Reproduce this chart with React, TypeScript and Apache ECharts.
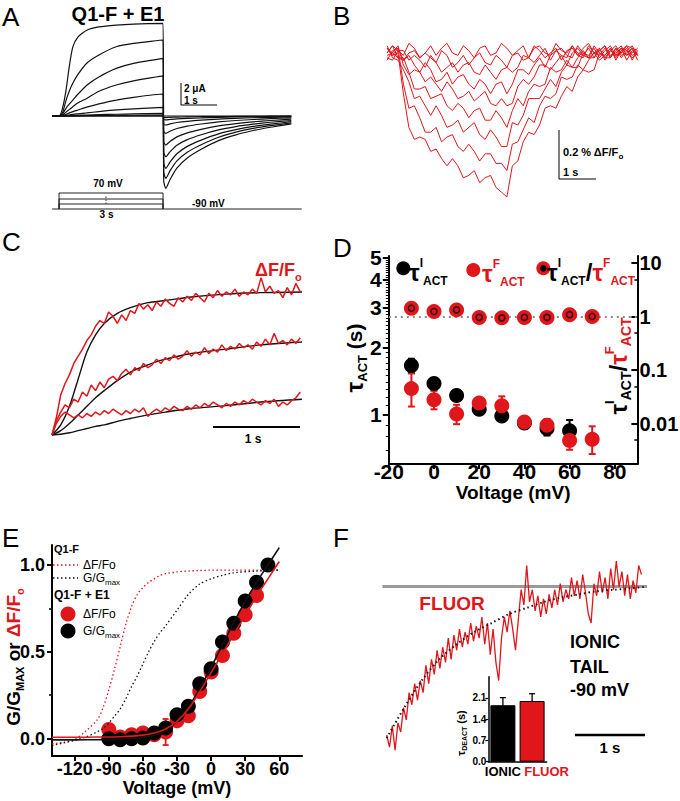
import React, { useEffect, useRef } from 'react';
import * as echarts from 'echarts';

const FF = '"Liberation Sans", Arial, Helvetica, sans-serif';
const RED = '#e0161b';

// ---------------- Panel A : ionic currents ----------------
const aStepTime = [-0.2, 0, 0.1, 0.2, 0.3, 0.4, 0.55, 0.8, 1.15, 1.65, 2.15, 3.0];
const aTailTime = [3.02, 3.08, 3.2, 3.4, 3.7, 4.1, 4.6, 5.1, 5.6, 6.1, 6.7];
const aStep = [
  [0, 0, 0.7, 2.3, 4.6, 6.3, 7.2, 7.8, 8.1, 8.27, 8.36, 8.42],
  [0, 0, 0.3, 1.4, 2.3, 3.0, 3.8, 4.8, 5.55, 6.3, 6.6, 6.91],
  [0, 0, 0.2, 0.7, 1.1, 1.45, 2.0, 2.8, 3.55, 4.33, 4.79, 5.24],
  [0, 0, 0.1, 0.35, 0.6, 0.85, 1.2, 1.6, 2.25, 2.82, 3.2, 3.64],
  [0, 0, 0.05, 0.15, 0.28, 0.4, 0.55, 0.8, 1.1, 1.45, 1.7, 2.0],
  [0, 0, 0.02, 0.06, 0.1, 0.15, 0.2, 0.28, 0.4, 0.55, 0.64, 0.79],
  [0, 0, 0, 0.02, 0.03, 0.04, 0.06, 0.09, 0.12, 0.16, 0.19, 0.24],
  [0, 0, 0, 0, 0.01, 0.01, 0.02, 0.03, 0.05, 0.06, 0.07, 0.09],
  [0, 0, 0, 0, 0, 0, 0, 0, 0, 0, 0, 0],
  [0, 0, 0, 0, 0, 0, 0, 0, 0, 0, 0, 0],
];
const aTail = [
  [-5.92, -6.58, -5.79, -4.74, -3.82, -3.03, -2.24, -1.71, -1.32, -1.02, -0.72],
  [-5.1, -5.67, -4.99, -4.08, -3.29, -2.61, -1.93, -1.47, -1.13, -0.88, -0.62],
  [-4.28, -4.76, -4.19, -3.43, -2.76, -2.19, -1.62, -1.24, -0.95, -0.74, -0.52],
  [-3.33, -3.7, -3.26, -2.66, -2.15, -1.7, -1.26, -0.96, -0.74, -0.57, -0.41],
  [-2.38, -2.64, -2.32, -1.9, -1.53, -1.21, -0.9, -0.69, -0.53, -0.41, -0.29],
  [-1.42, -1.58, -1.39, -1.14, -0.92, -0.73, -0.54, -0.41, -0.32, -0.24, -0.17],
  [-0.74, -0.82, -0.72, -0.59, -0.48, -0.38, -0.28, -0.21, -0.16, -0.13, -0.09],
  [-0.32, -0.36, -0.32, -0.26, -0.21, -0.17, -0.12, -0.09, -0.07, -0.06, -0.04],
  [-0.12, -0.14, -0.12, -0.1, -0.08, -0.06, -0.05, -0.04, -0.03, -0.02, -0.02],
  [0, 0, 0, 0, 0, 0, 0, 0, 0, 0, 0],
];
const aProtocolLevels = [70, 10, -40];
const aHold = -90;
const aStepOn = 0;
const aStepOff = 3;
const aProtocolSpan = [-0.2, 7.0];

// ---------------- Panel B : fluorescence traces (samples every 0.15 s from -0.3 s) ----------------
const bTraces = [
  [0.02, -0.01, 0.0, -0.17, -0.31, -0.36, -0.35, -0.36, -0.41, -0.4,
   -0.44, -0.47, -0.44, -0.47, -0.52, -0.51, -0.49, -0.54, -0.52, -0.51,
   -0.56, -0.58, -0.6, -0.47, -0.45, -0.37, -0.33, -0.34, -0.3, -0.23,
   -0.22, -0.23, -0.18, -0.14, -0.16, -0.1, -0.07, -0.08, -0.07, 0.0,
   -0.02, -0.02, 0.02, -0.02, 0.01, 0.03, -0.01],
  [0.02, -0.01, 0.02, -0.13, -0.23, -0.22, -0.27, -0.33, -0.33, -0.31,
   -0.37, -0.35, -0.34, -0.39, -0.41, -0.38, -0.41, -0.45, -0.42, -0.42,
   -0.46, -0.46, -0.49, -0.38, -0.37, -0.32, -0.27, -0.29, -0.22, -0.18,
   -0.19, -0.17, -0.1, -0.11, -0.1, -0.05, -0.07, -0.03, 0.0, -0.03,
   -0.01, 0.02, -0.03, 0.01, -0.01, 0.02, 0.01],
  [0.03, -0.02, -0.03, -0.07, -0.12, -0.19, -0.18, -0.22, -0.26, -0.22,
   -0.26, -0.31, -0.3, -0.28, -0.33, -0.31, -0.29, -0.34, -0.36, -0.32,
   -0.35, -0.39, -0.39, -0.29, -0.3, -0.26, -0.19, -0.19, -0.19, -0.15,
   -0.11, -0.14, -0.08, -0.05, -0.06, -0.06, 0.0, -0.02, -0.02, 0.02,
   -0.02, 0.01, 0.03, -0.01, 0.0, 0.02, -0.03],
  [0.02, 0.0, -0.02, -0.02, -0.08, -0.15, -0.15, -0.14, -0.19, -0.18,
   -0.17, -0.22, -0.24, -0.21, -0.23, -0.27, -0.24, -0.23, -0.28, -0.28,
   -0.24, -0.27, -0.31, -0.24, -0.19, -0.22, -0.16, -0.13, -0.14, -0.13,
   -0.06, -0.08, -0.07, -0.03, -0.06, -0.02, 0.01, -0.02, 0.0, 0.02,
   -0.03, 0.01, -0.01, 0.02, 0.01, -0.02, 0.0],
  [-0.01, 0.0, 0.03, -0.05, -0.09, -0.07, -0.08, -0.12, -0.1, -0.13,
   -0.16, -0.12, -0.15, -0.19, -0.18, -0.16, -0.2, -0.18, -0.16, -0.21,
   -0.22, -0.19, -0.22, -0.21, -0.14, -0.11, -0.13, -0.1, -0.05, -0.05,
   -0.07, -0.04, -0.01, -0.05, 0.0, 0.02, -0.01, -0.02, 0.03, 0.0,
   -0.01, 0.02, -0.02, 0.01, 0.03, -0.01, 0.0],
  [-0.03, 0.01, 0.02, -0.03, -0.01, -0.05, -0.08, -0.04, -0.07, -0.12,
   -0.11, -0.08, -0.13, -0.1, -0.09, -0.13, -0.15, -0.11, -0.13, -0.17,
   -0.13, -0.12, -0.17, -0.13, -0.07, -0.07, -0.09, -0.05, -0.02, -0.06,
   -0.01, 0.01, -0.01, -0.02, 0.03, 0.0, -0.01, 0.02, -0.02, 0.01,
   0.03, -0.01, 0.0, 0.02, -0.03, 0.01, -0.01],
  [-0.02, -0.03, 0.01, 0.01, -0.03, -0.01, -0.03, -0.06, -0.01, -0.04,
   -0.08, -0.06, -0.04, -0.08, -0.05, -0.04, -0.08, -0.09, -0.05, -0.08,
   -0.11, -0.07, -0.06, -0.08, -0.06, -0.01, -0.02, -0.04, -0.01, 0.02,
   -0.03, 0.01, 0.02, -0.01, -0.02, 0.03, 0.0, -0.01, 0.02, -0.02,
   0.01, 0.03, -0.01, 0.0, 0.02, -0.03, 0.01],
  [0.0, 0.03, -0.02, -0.03, 0.0, 0.01, -0.02, 0.0, -0.02, -0.04,
   0.01, -0.01, -0.06, -0.04, -0.01, -0.05, -0.02, 0.0, -0.04, -0.05,
   -0.01, -0.03, -0.06, -0.01, 0.0, -0.03, -0.02, 0.03, 0.01, -0.02,
   0.0, 0.02, -0.03, 0.01, 0.02, -0.01, -0.02, 0.03, 0.0, -0.01,
   0.02, -0.02, 0.01, 0.03, -0.01, 0.0, 0.02],
  [0.0, 0.03, 0.01, -0.01, 0.04, 0.02, -0.02, 0.0, 0.03, -0.01,
   0.02, 0.04, 0.0, -0.01, 0.03, 0.01, -0.02, 0.02, 0.03, -0.01,
   0.0, 0.04, 0.02, -0.01, 0.01, 0.03, -0.02, 0.02, 0.03, 0.0,
   -0.01, 0.04, 0.01, 0.0, 0.03, -0.01, 0.02, 0.04, 0.0, 0.01,
   0.03, -0.02, 0.02, 0.0, 0.03, 0.02, -0.01],
];

// ---------------- Panel C : ionic fits vs fluorescence (samples every 0.05 s) ----------------
const cFitTime = [0, 0.1, 0.2, 0.3, 0.4, 0.5, 0.6, 0.75, 0.9, 1.1, 1.3, 1.6, 2.0, 2.4, 2.87];
const cFits = [
  [0, 0.07, 0.2, 0.39, 0.58, 0.7, 0.78, 0.85, 0.89, 0.925, 0.94, 0.965, 0.985, 0.995, 1.0],
  [0, 0.03, 0.08, 0.14, 0.2, 0.26, 0.31, 0.38, 0.44, 0.49, 0.53, 0.57, 0.6, 0.63, 0.65],
  [0, 0.005, 0.015, 0.03, 0.045, 0.06, 0.07, 0.095, 0.115, 0.14, 0.16, 0.185, 0.205, 0.23, 0.25],
];
const cTraces = [
  [0.0, 0.12, 0.28, 0.36, 0.42, 0.5, 0.55, 0.6, 0.66, 0.7,
   0.76, 0.8, 0.78, 0.86, 0.83, 0.78, 0.84, 0.8, 0.87, 0.85,
   0.92, 0.88, 0.91, 0.87, 0.93, 0.9, 0.95, 0.92, 0.9, 0.96,
   0.93, 0.97, 0.94, 0.99, 0.96, 0.93, 0.99, 0.96, 1.01, 0.97,
   1.0, 0.98, 1.02, 0.97, 1.0, 0.98, 1.02, 0.99, 1.1, 1.0,
   1.04, 0.99, 1.01, 0.96, 1.03, 0.98, 1.06, 1.0],
  [0.0, 0.1, 0.16, 0.21, 0.19, 0.25, 0.23, 0.3, 0.27, 0.35,
   0.31, 0.37, 0.33, 0.39, 0.41, 0.38, 0.43, 0.46, 0.42, 0.47,
   0.45, 0.5, 0.47, 0.49, 0.53, 0.5, 0.54, 0.52, 0.56, 0.53,
   0.55, 0.59, 0.55, 0.58, 0.56, 0.61, 0.57, 0.6, 0.58, 0.63,
   0.59, 0.62, 0.6, 0.64, 0.61, 0.63, 0.6, 0.65, 0.62, 0.67,
   0.63, 0.71, 0.64, 0.66, 0.63, 0.67, 0.64, 0.68],
  [0.0, 0.08, 0.13, 0.16, 0.14, 0.12, 0.14, 0.12, 0.15, 0.13,
   0.16, 0.14, 0.17, 0.15, 0.18, 0.16, 0.14, 0.17, 0.15, 0.18,
   0.16, 0.19, 0.13, 0.16, 0.18, 0.16, 0.19, 0.17, 0.2, 0.18,
   0.17, 0.2, 0.18, 0.21, 0.19, 0.22, 0.2, 0.23, 0.21, 0.19,
   0.22, 0.2, 0.23, 0.21, 0.24, 0.22, 0.25, 0.23, 0.21, 0.24,
   0.22, 0.25, 0.2, 0.23, 0.21, 0.24, 0.26, 0.3],
];

// ---------------- Panel D : activation time constants ----------------
const dVoltI = [-10, 0, 10, 20, 30, 40, 50, 60];
const dTauI = [1.66, 1.38, 1.22, 1.06, 0.99, 0.92, 0.87, 0.85];
const dTauIErr = [0.12, 0.08, 0.06, 0.04, 0.05, 0.05, 0.06, 0.1];
const dVoltF = [-10, 0, 10, 20, 30, 40, 50, 60, 70];
const dTauF = [1.31, 1.17, 1.01, 1.13, 1.1, 0.93, 0.9, 0.77, 0.78];
const dTauFErr = [0.22, 0.11, 0.1, 0.05, 0.11, 0.05, 0.06, 0.07, 0.11];
const dRatio = [1.44, 1.25, 1.34, 0.97, 0.95, 0.97, 0.97, 1.09, 1.01];
const dRatioErr = [0.1, 0.06, 0.06, 0.08, 0.08, 0.08, 0.08, 0.08, 0.08];
const dXTicks = [-20, 0, 20, 40, 60, 80];
const dYMajor = [1, 2, 3, 4, 5];
const dYMinor = [0.7, 0.8, 0.9, 1.1, 1.2, 1.3, 1.4, 1.5, 1.6, 1.7, 1.8, 1.9,
  2.1, 2.2, 2.3, 2.4, 2.5, 2.6, 2.7, 2.8, 2.9, 3.1, 3.2, 3.3, 3.4, 3.5, 3.6, 3.7, 3.8, 3.9,
  4.1, 4.2, 4.3, 4.4, 4.5, 4.6, 4.7, 4.8, 4.9];
const dRatioTicks = [0.01, 0.1, 1, 10];
const dRatioMinor = [0.005, 0.05, 0.5, 5];

// ---------------- Panel E : G-V and F-V ----------------
const eVoltG = [-90, -80, -70, -60, -50, -40, -30, -20, -10, 0, 10, 20, 30, 40, 50];
const eG = [0.0, -0.006, 0.0, 0.004, 0.033, 0.061, 0.138, 0.186, 0.316, 0.402, 0.556, 0.665, 0.793, 0.9, 1.0];
const eGErr = [0.01, 0.01, 0.01, 0.01, 0.01, 0.02, 0.02, 0.02, 0.02, 0.02, 0.02, 0.02, 0.02, 0.02, 0.02];
const eVoltF = [-90, -80, -70, -60, -50, -40, -30, -20, -10, 0, 10, 20, 30, 40];
const eF = [0.052, 0.01, 0.023, 0.033, 0.023, 0.038, 0.103, 0.132, 0.272, 0.383, 0.479, 0.607, 0.713, 0.824];
const eFErr = [0.03, 0.02, 0.02, 0.02, 0.02, 0.075, 0.02, 0.02, 0.02, 0.03, 0.02, 0.02, 0.02, 0.02];
const eFitVolt = [-140, -120, -100, -80, -60, -50, -40, -30, -20, -10, 0, 10, 20, 30, 40, 50, 60];
const eFitG = [-0.007, -0.007, -0.006, -0.004, 0.005, 0.018, 0.045, 0.1, 0.18, 0.29, 0.41, 0.54, 0.67, 0.79, 0.9, 1.0, 1.1];
const eFitF = [0.008, 0.008, 0.009, 0.011, 0.02, 0.032, 0.055, 0.1, 0.17, 0.27, 0.38, 0.49, 0.6, 0.71, 0.82, 0.92, 1.02];
const eQ1Volt = [-140, -130, -120, -110, -100, -95, -90, -85, -80, -75, -70, -65, -60, -55, -50, -45, -40, -30, -20, -10, 0, 10, 20, 40, 60];
const eQ1F = [-0.03, -0.02, -0.005, 0.045, 0.11, 0.18, 0.28, 0.4, 0.53, 0.66, 0.76, 0.83, 0.87, 0.9, 0.92, 0.94, 0.95, 0.96, 0.965, 0.968, 0.97, 0.97, 0.97, 0.97, 0.97];
const eQ1G = [-0.04, -0.025, -0.01, 0.01, 0.04, 0.06, 0.09, 0.13, 0.17, 0.23, 0.3, 0.36, 0.43, 0.5, 0.56, 0.61, 0.65, 0.74, 0.83, 0.89, 0.92, 0.94, 0.955, 0.965, 0.97];
const eXTicks = [-120, -90, -60, -30, 0, 30, 60];
const eYMajor = [0, 0.5, 1.0];
const eYMinor = [0.25, 0.75];

// ---------------- Panel F : deactivation tail (samples every 0.04 s) ----------------
const fTrace = [
  0.02, -0.06, 0.08, -0.08, 0.1, 0.04, 0.2, 0.12, 0.3, 0.22,
  0.36, 0.25, 0.38, 0.3, 0.48, 0.36, 0.52, 0.42, 0.58, 0.46,
  0.6, 0.5, 0.66, 0.52, 0.68, 0.58, 0.72, 0.6, 0.7, 0.62,
  0.76, 0.64, 0.74, 0.66, 0.8, 0.62, 0.76, 0.55, 0.72, 0.5,
  0.38, 0.66, 0.8, 0.7, 0.84, 0.72, 0.58, 0.78, 0.98, 0.88,
  1.14, 0.9, 0.98, 0.84, 0.94, 0.8, 0.92, 0.82, 0.95, 0.86,
  0.98, 0.88, 1.02, 0.9, 0.98, 0.92, 1.06, 0.94, 1.04, 0.92,
  1.08, 0.96, 0.82, 0.76, 1.02, 0.94, 1.1, 0.96, 1.06, 0.92,
  1.12, 0.98, 1.17, 1.0, 1.1, 0.94, 1.08, 0.92, 1.04, 0.96,
  1.14, 1.08,
];
const fFitTime = [0, 0.25, 0.5, 0.75, 1.0, 1.25, 1.5, 1.75, 2.0, 2.25, 2.5, 2.75, 3.0, 3.25, 3.5, 3.7];
const fFitVal = [0.0, 0.2, 0.38, 0.52, 0.62, 0.7, 0.76, 0.82, 0.86, 0.9, 0.93, 0.95, 0.97, 0.98, 0.99, 1.0];
const fSteady = 1.0;
const fBarLabels = ['IONIC', 'FLUOR'];
const fBarMeans = [1.86, 2.0];
const fBarErr = [0.25, 0.24];
const fBarColors = ['#000000', RED];

// ---------------- helpers ----------------
const hid = (gridIndex: number, min: number, max: number) => ({
  type: 'value', gridIndex, min, max, show: false, splitLine: { show: false },
});
const aLine = (w: number) => ({ show: true, onZero: false, lineStyle: { color: '#000', width: w } });
const noLine = { show: false, onZero: false };
const lbl = (size: number, margin: number, extra: any = {}) => ({
  show: true, color: '#000', fontSize: size, fontWeight: 'bold', fontFamily: FF, margin, ...extra,
});
const lineS = (xi: number, yi: number, data: any[], color: string, width: number, extra: any = {}) => ({
  type: 'line', xAxisIndex: xi, yAxisIndex: yi, data, symbol: 'none', showSymbol: false,
  silent: true, clip: false, lineStyle: { color, width }, ...extra,
});
const errS = (xi: number, yi: number, data: any[], color: string, cap: number, width: number) => ({
  type: 'custom', xAxisIndex: xi, yAxisIndex: yi, data, silent: true, clip: false,
  encode: { x: 0, y: [1, 2] },
  renderItem: (_p: any, api: any) => {
    const x = api.value(0);
    const a = api.coord([x, api.value(2)]);
    const b = api.coord([x, api.value(1)]);
    const st = { stroke: color, lineWidth: width };
    return {
      type: 'group',
      children: [
        { type: 'line', shape: { x1: a[0], y1: a[1], x2: b[0], y2: b[1] }, style: st },
        { type: 'line', shape: { x1: a[0] - cap, y1: a[1], x2: a[0] + cap, y2: a[1] }, style: st },
        { type: 'line', shape: { x1: b[0] - cap, y1: b[1], x2: b[0] + cap, y2: b[1] }, style: st },
      ],
    };
  },
});
const scat = (xi: number, yi: number, xs: number[], ys: number[], color: string, size: number, extra: any = {}) => ({
  type: 'scatter', xAxisIndex: xi, yAxisIndex: yi, data: xs.map((x, i) => [x, ys[i]]),
  symbol: 'circle', symbolSize: size, silent: true, clip: false,
  itemStyle: { color, opacity: 1 }, ...extra,
});
const rs = (size: number, color: string, va: string, lh: number, weight = 'bold') => ({
  fontSize: size, fontWeight: weight, fontFamily: FF, fill: color, color, verticalAlign: va, lineHeight: lh,
});
function T(x: number, y: number, text: string, size: number, o: any = {}) {
  const style: any = {
    text, fill: o.color || '#000', fontSize: size, fontWeight: o.weight || 'bold', fontFamily: FF,
    align: o.align || 'left', verticalAlign: 'middle', textAlign: o.align || 'left', textVerticalAlign: 'middle',
  };
  if (o.lineHeight) style.lineHeight = o.lineHeight;
  if (o.rich) style.rich = o.rich;
  return { type: 'text', x, y, rotation: o.rotation || 0, silent: true, z: 10, style };
}
const L = (x1: number, y1: number, x2: number, y2: number, stroke: string, w: number, dash?: number[]) => ({
  type: 'line', silent: true, z: 10, shape: { x1, y1, x2, y2 }, style: { stroke, lineWidth: w, lineDash: dash },
});
const Cc = (cx: number, cy: number, r: number, fill: string) => ({
  type: 'circle', silent: true, z: 10, shape: { cx, cy, r }, style: { fill },
});

function buildOption() {
  const series: any[] = [];

  // ---- A ----
  aStep.forEach((vals, k) => {
    const data = [
      ...aStepTime.map((t, i) => [t, vals[i]]),
      ...aTailTime.map((t, i) => [t, aTail[k][i]]),
    ];
    series.push(lineS(0, 0, data, '#111', 1.2, { smooth: 0.2 }));
  });
  aProtocolLevels.forEach((lv) => {
    series.push(lineS(1, 1, [[aStepOn, aHold], [aStepOn, lv], [aStepOff, lv], [aStepOff, aHold]], '#222', 1));
  });
  series.push(lineS(1, 1, [[aProtocolSpan[0], aHold], [aProtocolSpan[1], aHold]], '#222', 1));

  // ---- B ----
  bTraces.forEach((vals) => series.push(lineS(2, 2, vals.map((v, i) => [i, v]), RED, 1)));

  // ---- C ----
  cFits.forEach((vals) => series.push(lineS(3, 3, cFitTime.map((t, i) => [t, vals[i]]), '#111', 1.4, { smooth: 0.3 })));
  cTraces.forEach((vals) => series.push(lineS(4, 3, vals.map((v, i) => [i, v]), RED, 1.5)));

  // ---- D ----
  series.push(errS(5, 4, dVoltI.map((v, i) => [v, dTauI[i] - dTauIErr[i], dTauI[i] + dTauIErr[i]]), '#000', 3.5, 2));
  series.push(scat(5, 4, dVoltI, dTauI, '#000', 15));
  series.push(errS(5, 4, dVoltF.map((v, i) => [v, dTauF[i] - dTauFErr[i], dTauF[i] + dTauFErr[i]]), RED, 3.5, 2));
  series.push(scat(5, 4, dVoltF, dTauF, RED, 15));
  series.push(scat(5, 6, dVoltF, dRatio, RED, 15, {
    markLine: {
      silent: true, symbol: 'none', z: 1, label: { show: false },
      lineStyle: { color: '#8a8a8a', width: 2, type: [2, 4] }, data: [{ yAxis: 1 }],
    },
  }));
  series.push(errS(5, 6, dVoltF.map((v, i) => [v, dRatio[i] - dRatioErr[i], dRatio[i] + dRatioErr[i]]), '#111', 2.5, 1.5));
  series.push(scat(5, 6, dVoltF, dRatio, 'rgba(0,0,0,0)', 6, {
    itemStyle: { color: 'rgba(0,0,0,0)', borderColor: '#111', borderWidth: 1.6 },
  }));

  // ---- E ----
  series.push(lineS(6, 8, eQ1Volt.map((v, i) => [v, eQ1F[i]]), RED, 1.3, { smooth: 0.3, lineStyle: { color: RED, width: 1.3, type: [1.5, 2.5] } }));
  series.push(lineS(6, 8, eQ1Volt.map((v, i) => [v, eQ1G[i]]), '#111', 1.3, { smooth: 0.3, lineStyle: { color: '#111', width: 1.3, type: [1.5, 2.5] } }));
  series.push(lineS(6, 8, eFitVolt.map((v, i) => [v, eFitG[i]]), '#111', 1.6, { smooth: 0.3 }));
  series.push(lineS(6, 8, eFitVolt.map((v, i) => [v, eFitF[i]]), RED, 1.6, { smooth: 0.3 }));
  series.push(errS(6, 8, eVoltF.map((v, i) => [v, eF[i] - eFErr[i], eF[i] + eFErr[i]]), RED, 3, 1.8));
  series.push(scat(6, 8, eVoltF, eF, RED, 15));
  series.push(errS(6, 8, eVoltG.map((v, i) => [v, eG[i] - eGErr[i], eG[i] + eGErr[i]]), '#000', 3, 1.8));
  series.push(scat(6, 8, eVoltG, eG, '#000', 15));

  // ---- F ----
  series.push(lineS(8, 10, fTrace.map((v, i) => [i, v]), RED, 1.3));
  series.push(lineS(7, 10, fFitTime.map((t, i) => [t, fFitVal[i]]), '#111', 2, {
    smooth: 0.3,
    lineStyle: { color: '#111', width: 2, type: [1.5, 3] },
    markLine: {
      silent: true, symbol: 'none', z: 1, label: { show: false },
      lineStyle: { color: '#9a9a9a', width: 3, type: 'solid' }, data: [{ yAxis: fSteady }],
    },
  }));
  series.push({
    type: 'bar', xAxisIndex: 9, yAxisIndex: 11, barWidth: 25, silent: true,
    data: fBarMeans.map((m, i) => ({ value: m, itemStyle: { color: fBarColors[i], borderColor: '#000', borderWidth: 1 } })),
  });
  series.push(errS(9, 11, fBarMeans.map((m, i) => [i, m - fBarErr[i], m + fBarErr[i]]), '#000', 3, 1.3));

  const dRich = {
    t: rs(24, '#000', 'middle', 30),
    tr: rs(24, RED, 'middle', 30),
    sl: rs(24, '#000', 'middle', 30),
    sup: rs(12, '#000', 'top', 12),
    sub: rs(12, '#000', 'bottom', 12),
    supr: rs(12, RED, 'top', 12),
    subr: rs(12, RED, 'bottom', 12),
  };
  const dRich2 = { ...dRich, sub: rs(14, '#000', 'bottom', 14), subr: rs(14, RED, 'bottom', 14), sup: rs(13, '#000', 'top', 13), supr: rs(13, RED, 'top', 13) };
  const subSmall = (c: string, w = 'bold') => ({ s: rs(8, c, 'bottom', 8, w) });

  const graphic: any[] = [
    // panel letters
    T(2, 17, 'A', 26, { weight: 'normal' }),
    T(333, 16, 'B', 26, { weight: 'normal' }),
    T(2, 242, 'C', 26, { weight: 'normal' }),
    T(333, 248, 'D', 26, { weight: 'normal' }),
    T(2, 538, 'E', 26, { weight: 'normal' }),
    T(333, 538, 'F', 26, { weight: 'normal' }),
    // A
    T(118, 14, 'Q1-F + E1', 20, { align: 'center' }),
    L(181, 83, 181, 105, '#000', 1), L(181, 105, 217, 105, '#000', 1),
    T(184, 88.5, '2 μA', 10), T(184, 100, '1 s', 10),
    T(108, 183.5, '70 mV', 10, { align: 'center' }),
    T(192, 203.5, '-90 mV', 10),
    T(106.5, 214, '3 s', 10, { align: 'center' }),
    L(106, 196.5, 106, 204, '#333', 1, [1.5, 1.5]),
    // B
    L(559, 130, 559, 179, '#000', 1), L(559, 179, 596, 179, '#000', 1),
    T(563, 152, '0.2 % ΔF/F{s|o}', 11, { lineHeight: 16, rich: subSmall('#000') }),
    T(563, 172, '1 s', 11),
    // C
    T(255, 270, 'ΔF/F{s|o}', 18, { color: RED, lineHeight: 24, rich: { s: rs(11, RED, 'bottom', 11) } }),
    L(213, 427, 300, 427, '#000', 2),
    T(253, 438.5, '1 s', 12, { align: 'center' }),
    // D legend
    Cc(403.3, 268.3, 7, '#000'),
    T(409, 272, '{t|τ}{sup|I}{sub|ACT}', 24, { rich: dRich }),
    Cc(473.3, 270, 7, RED),
    T(482, 273, '{tr|τ}{supr|F}{subr|ACT}', 24, { rich: dRich }),
    Cc(543.3, 268.3, 7, RED), Cc(543.3, 268.3, 3.3, '#000'),
    T(547, 272, '{t|τ}{sup|I}{sub|ACT}{sl|/}{tr|τ}{supr|F}{subr|ACT}', 24, { rich: dRich }),
    // D axis titles
    T(354, 358, '{t|τ}{sub|ACT}{n| (s)}', 21, {
      align: 'center', rotation: Math.PI / 2,
      rich: { t: rs(24, '#000', 'middle', 30), sub: rs(13, '#000', 'bottom', 13), n: rs(21, '#000', 'middle', 30) },
    }),
    T(618, 366, '{t|τ}{sup|I}{sub|ACT}{sl|/}{tr|τ}{supr|F}{subr|ACT}', 24, {
      align: 'center', rotation: Math.PI / 2, rich: dRich2,
    }),
    // E legend
    T(54, 549, 'Q1-F', 11),
    L(53, 565, 78, 565, RED, 1.3, [1.5, 2.5]),
    T(83, 565, 'ΔF/Fo', 12, { weight: 'normal' }),
    L(53, 578, 78, 578, '#111', 1.3, [1.5, 2.5]),
    T(83, 578, 'G/G{s|max}', 12, { weight: 'normal', lineHeight: 16, rich: subSmall('#000', 'normal') }),
    T(54, 595, 'Q1-F + E1', 12),
    Cc(68, 614, 7.5, RED),
    T(83, 614, 'ΔF/Fo', 12, { weight: 'normal' }),
    Cc(68, 631, 7.5, '#000'),
    T(83, 631, 'G/G{s|max}', 12, { weight: 'normal', lineHeight: 16, rich: subSmall('#000', 'normal') }),
    // E y title
    T(13, 657, '{a|G/G}{s|MAX}{a| or }{r|ΔF/F}{rs|o}', 19, {
      align: 'center', rotation: Math.PI / 2,
      rich: {
        a: rs(19, '#000', 'middle', 24), s: rs(11, '#000', 'bottom', 11),
        r: rs(19, RED, 'middle', 24), rs: rs(11, RED, 'bottom', 11),
      },
    }),
    // F
    T(452, 603.5, 'FLUOR', 19, { color: RED, align: 'center' }),
    T(570, 642, 'IONIC', 18),
    T(570, 667, 'TAIL', 18),
    T(570, 690, '-90 mV', 18),
    L(575, 735, 645, 735, '#000', 2.5),
    T(610, 747, '1 s', 15, { align: 'center' }),
    T(461, 733, '{t|τ}{s|DEACT}{t| (s)}', 11, {
      align: 'center', rotation: Math.PI / 2,
      rich: { t: rs(11, '#000', 'middle', 14), s: rs(7, '#000', 'bottom', 7) },
    }),
  ];

  const grid = [
    { left: 52.1, top: 17, width: 239.2, height: 176 },
    { left: 52.1, top: 193, width: 249.6, height: 16 },
    { left: 387.1, top: 29, width: 250.5, height: 180 },
    { left: 52, top: 270.5, width: 250, height: 171.6 },
    { left: 388.8, top: 256, width: 248.6, height: 208 },
    { left: 52, top: 545, width: 250, height: 211 },
    { left: 382.5, top: 541.3, width: 264.6, height: 227 },
    { left: 488.3, top: 676.7, width: 58.4, height: 85 },
  ].map((g) => ({ ...g, containLabel: false, outerBoundsMode: 'none', show: false }));

  const xAxis: any[] = [
    hid(0, -0.2, 6.7),
    hid(1, -0.2, 7.0),
    hid(2, 0, 46),
    hid(3, 0, 2.87),
    hid(3, 0, 57.4),
    {
      type: 'value', gridIndex: 4, min: -20, max: 90,
      axisLine: aLine(2),
      axisTick: { show: true, customValues: dXTicks, length: 5, lineStyle: { color: '#000', width: 2 } },
      axisLabel: lbl(21, -3, { customValues: dXTicks }),
      splitLine: { show: false },
      name: 'Voltage (mV)', nameLocation: 'middle', nameGap: 13,
      nameTextStyle: { color: '#000', fontSize: 19, fontWeight: 'bold', fontFamily: FF },
    },
    {
      type: 'value', gridIndex: 5, min: -140, max: 80,
      axisLine: aLine(2),
      axisTick: { show: true, customValues: eXTicks, length: 5, lineStyle: { color: '#000', width: 2 } },
      axisLabel: lbl(18, 4, { customValues: eXTicks }),
      splitLine: { show: false },
      name: 'Voltage (mV)', nameLocation: 'middle', nameGap: 23,
      nameTextStyle: { color: '#000', fontSize: 18, fontWeight: 'bold', fontFamily: FF },
    },
    hid(6, -0.06, 3.72),
    hid(6, -1.5, 93),
    {
      type: 'category', gridIndex: 7, data: fBarLabels,
      axisLine: aLine(1.5), axisTick: { show: false },
      axisLabel: {
        show: true, interval: 0, margin: 3,
        formatter: (v: string, i: number) => `{c${i}|${v}}`,
        rich: {
          c0: { color: fBarColors[0], fontSize: 13, fontWeight: 'bold', fontFamily: FF },
          c1: { color: fBarColors[1], fontSize: 13, fontWeight: 'bold', fontFamily: FF, padding: [0, 0, 0, 29] },
        },
      },
      splitLine: { show: false },
    },
  ];

  const yAxis: any[] = [
    hid(0, -7, 9),
    hid(1, -90, 70),
    hid(2, -0.65, 0.1),
    hid(3, -0.05, 1.15),
    {
      type: 'log', logBase: 10, gridIndex: 4, position: 'left', min: 0.605, max: 5.1,
      axisLine: aLine(2),
      axisTick: { show: true, customValues: dYMinor, length: 3, lineStyle: { color: '#000', width: 1 } },
      axisLabel: { show: false }, splitLine: { show: false }, minorTick: { show: false },
    },
    {
      type: 'log', logBase: 10, gridIndex: 4, position: 'left', min: 0.605, max: 5.1,
      axisLine: noLine,
      axisTick: { show: true, customValues: dYMajor, length: 6, lineStyle: { color: '#000', width: 2 } },
      axisLabel: lbl(21, 7, { customValues: dYMajor }),
      splitLine: { show: false },
    },
    {
      type: 'log', logBase: 10, gridIndex: 4, position: 'right', min: 0.00177, max: 13.6,
      axisLine: aLine(2),
      axisTick: { show: true, inside: true, customValues: dRatioTicks, length: 6, lineStyle: { color: '#000', width: 2 } },
      axisLabel: lbl(20, 2, { customValues: dRatioTicks, formatter: (v: number) => String(+Number(v).toPrecision(3)) }),
      splitLine: { show: false },
    },
    {
      type: 'log', logBase: 10, gridIndex: 4, position: 'right', min: 0.00177, max: 13.6,
      axisLine: noLine,
      axisTick: { show: true, inside: true, customValues: dRatioMinor, length: 3, lineStyle: { color: '#000', width: 1.5 } },
      axisLabel: { show: false }, splitLine: { show: false },
    },
    {
      type: 'value', gridIndex: 5, position: 'left', min: -0.1, max: 1.115,
      axisLine: aLine(2),
      axisTick: { show: true, customValues: eYMajor, length: 5, lineStyle: { color: '#000', width: 2 } },
      axisLabel: lbl(18, 7, { customValues: eYMajor, formatter: (v: number) => Number(v).toFixed(1) }),
      splitLine: { show: false },
    },
    {
      type: 'value', gridIndex: 5, position: 'left', min: -0.1, max: 1.115,
      axisLine: noLine,
      axisTick: { show: true, customValues: eYMinor, length: 3, lineStyle: { color: '#000', width: 1.5 } },
      axisLabel: { show: false }, splitLine: { show: false },
    },
    hid(6, -0.2, 1.3),
    {
      type: 'value', gridIndex: 7, min: 0, max: 2.8, interval: 0.7,
      axisLine: aLine(1.5),
      axisTick: { show: true, length: 3, lineStyle: { color: '#000', width: 1.2 } },
      axisLabel: lbl(10, 2, { showMaxLabel: false, formatter: (v: number) => Number(v).toFixed(1) }),
      splitLine: { show: false },
    },
  ];

  return {
    animation: false,
    backgroundColor: '#ffffff',
    textStyle: { fontFamily: FF },
    grid, xAxis, yAxis, series, graphic,
  };
}

export default function App() {
  const ref = useRef<HTMLDivElement>(null);
  useEffect(() => {
    const chart = echarts.init(ref.current as HTMLDivElement, undefined, { renderer: 'svg' });
    chart.setOption(buildOption() as any);
    return () => chart.dispose();
  }, []);
  return (
    <div
      ref={ref}
      style={{ position: 'absolute', left: 0, top: 0, width: 680, height: 801, background: '#fff' }}
    />
  );
}
